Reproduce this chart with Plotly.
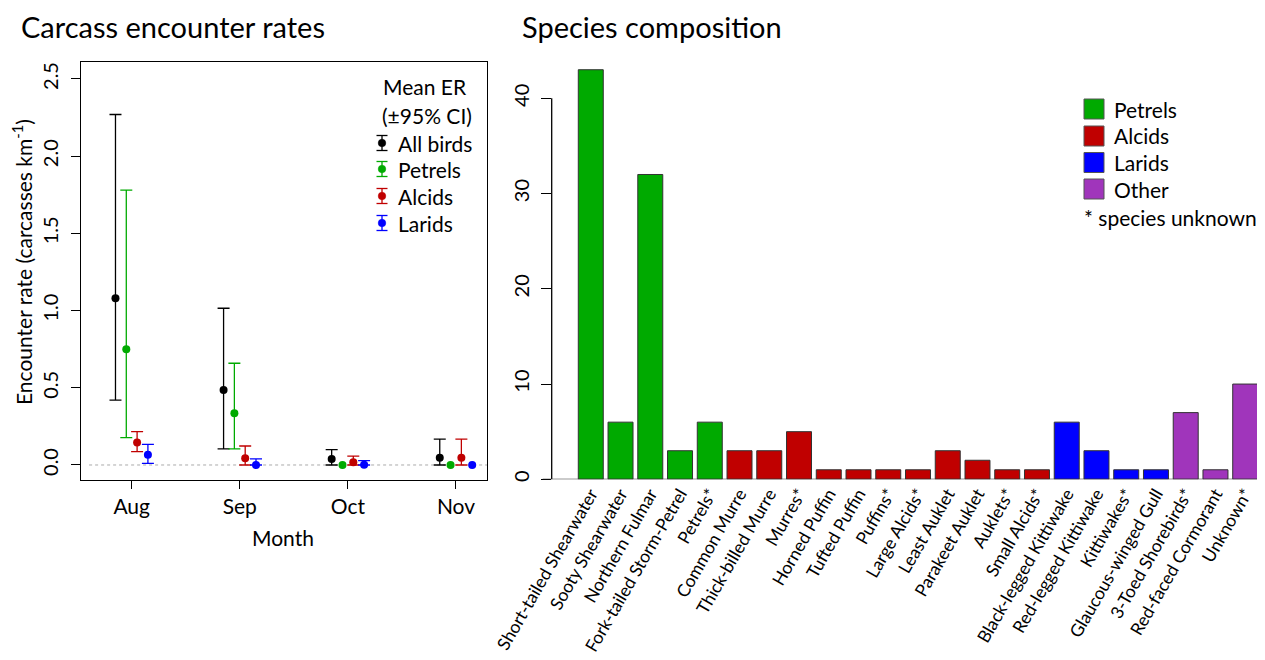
import plotly.graph_objects as go

# page body has an 8px margin: figure is drawn 8px in from the top-left
OFF = 8
W, H = 1265 - OFF, 660 - OFF

# ---------------- data: left panel ----------------
months = ["Aug", "Sep", "Oct", "Nov"]
month_pos = [1, 2, 3, 4]
series_names = ["All birds", "Petrels", "Alcids", "Larids"]

all_mean = [1.08, 0.486, 0.039, 0.047]
all_lo = [0.42, 0.104, 0.0, 0.0]
all_hi = [2.27, 1.015, 0.10, 0.168]

pet_mean = [0.75, 0.335, 0.0, 0.0]
pet_lo = [0.177, 0.104, 0.0, 0.0]
pet_hi = [1.78, 0.659, 0.0, 0.0]

alc_mean = [0.145, 0.043, 0.017, 0.047]
alc_lo = [0.086, 0.0, 0.0, 0.0]
alc_hi = [0.216, 0.123, 0.058, 0.168]

lar_mean = [0.067, 0.0, 0.002, 0.0]
lar_lo = [0.011, 0.0, 0.0, 0.0]
lar_hi = [0.134, 0.039, 0.028, 0.0]

y_ticks_left = [0.0, 0.5, 1.0, 1.5, 2.0, 2.5]
y_ticktext_left = ["0.0", "0.5", "1.0", "1.5", "2.0", "2.5"]

# ---------------- data: right panel ----------------
species = ["Short-tailed Shearwater", "Sooty Shearwater", "Northern Fulmar",
           "Fork-tailed Storm-Petrel", "Petrels*", "Common Murre",
           "Thick-billed Murre", "Murres*", "Horned Puffin", "Tufted Puffin",
           "Puffins*", "Large Alcids*", "Least Auklet", "Parakeet Auklet",
           "Auklets*", "Small Alcids*", "Black-legged Kittiwake",
           "Red-legged Kittiwake", "Kittiwakes*", "Glaucous-winged Gull",
           "3-Toed Shorebirds*", "Red-faced Cormorant", "Unknown*"]
counts = [43, 6, 32, 3, 6, 3, 3, 5, 1, 1, 1, 1, 3, 2, 1, 1, 6, 3, 1, 1, 7, 1, 10]
groups = ["Petrels"] * 5 + ["Alcids"] * 11 + ["Larids"] * 4 + ["Other"] * 3
group_legend = ["Petrels", "Alcids", "Larids", "Other"]
y_ticks_right = [0, 10, 20, 30, 40]

# ---------------- styles ----------------
FONT = "Lato"
colors = {"All birds": "#000000", "Petrels": "#00AA00", "Alcids": "#C00000",
          "Larids": "#0000FF", "Other": "#A035BB"}
offsets = [-0.15, -0.05, 0.05, 0.15]
TXT = 21

def px(x):
    return (x - OFF) / W

def py(y):
    return 1 - (y - OFF) / H

fig = go.Figure()

series = [
    ("All birds", all_mean, all_lo, all_hi),
    ("Petrels", pet_mean, pet_lo, pet_hi),
    ("Alcids", alc_mean, alc_lo, alc_hi),
    ("Larids", lar_mean, lar_lo, lar_hi),
]

for k, (name, mean, lo, hi) in enumerate(series):
    c = colors[name]
    xs = [m + offsets[k] for m in month_pos]
    idx = [i for i in range(len(mean)) if hi[i] > lo[i]]
    # error bars (only where an interval exists)
    fig.add_trace(go.Scatter(
        x=[xs[i] for i in idx], y=[mean[i] for i in idx],
        mode="markers", marker=dict(size=2, opacity=0, color=c),
        error_y=dict(type="data", symmetric=False,
                     array=[hi[i] - mean[i] for i in idx],
                     arrayminus=[mean[i] - lo[i] for i in idx],
                     color=c, thickness=1.3, width=6),
        xaxis="x", yaxis="y", showlegend=False, hoverinfo="skip"))
    fig.add_trace(go.Scatter(
        x=xs, y=mean, mode="markers", name=name,
        marker=dict(size=8, color=c),
        xaxis="x", yaxis="y", showlegend=False))

bar_colors = [colors[g] for g in groups]
fig.add_trace(go.Bar(
    x=species, y=counts, width=0.84,
    marker=dict(color=bar_colors, line=dict(color="#333333", width=1)),
    xaxis="x2", yaxis="y2", showlegend=False))

axis_font = dict(family=FONT, size=20, color="black")

fig.update_layout(
    width=W, height=H,
    margin=dict(l=0, r=0, t=0, b=0, autoexpand=False),
    paper_bgcolor="white", plot_bgcolor="white",
    font=dict(family=FONT, color="black", size=TXT),
    xaxis=dict(domain=[px(81), px(487)], range=[0.531, 4.287],
               tickmode="array", tickvals=month_pos, ticktext=months,
               ticks="outside", ticklen=8, tickwidth=1.3, tickcolor="black",
               showline=True, mirror=True, linecolor="black", linewidth=1.3,
               showgrid=False, zeroline=False,
               tickfont=dict(family=FONT, size=TXT, color="black"),
               ticklabelstandoff=0, anchor="y", automargin=False),
    yaxis=dict(domain=[py(479.5), py(62)], range=[-0.094, 2.61],
               tickmode="array", tickvals=y_ticks_left, ticktext=y_ticktext_left,
               tickangle=-90, ticks="outside", ticklen=9, tickwidth=1.3,
               tickcolor="black",
               showline=True, mirror=True, linecolor="black", linewidth=1.3,
               showgrid=False, zeroline=False, tickfont=axis_font,
               ticklabelstandoff=5, anchor="x", automargin=False),
    xaxis2=dict(domain=[px(551.7), px(1258)], range=[-1.314, 22.43],
                type="category", tickangle=-60, ticks="", showline=False,
                showgrid=False, zeroline=False,
                tickfont=dict(family=FONT, size=17.5, color="black"),
                anchor="y2", automargin=False),
    yaxis2=dict(domain=[py(479.3), py(62)], range=[0, 43.81],
                tickmode="array", tickvals=y_ticks_right,
                tickangle=-90, ticks="outside", ticklen=10, tickwidth=1.3,
                tickcolor="black", showline=False, showgrid=False,
                zeroline=False, tickfont=axis_font, ticklabelstandoff=4,
                anchor="x2", automargin=False),
)

shapes = []
# dotted zero line (left)
shapes.append(dict(type="line", xref="x domain", yref="y", x0=0.02, x1=1,
                   y0=0, y1=0, line=dict(color="#AAAAAA", width=1, dash="dot"),
                   layer="below"))
# right y-axis line (0..40)
shapes.append(dict(type="line", xref="x2 domain", yref="y2", x0=0, x1=0,
                   y0=0, y1=40, line=dict(color="black", width=1.3)))
# right baseline
shapes.append(dict(type="line", xref="paper", yref="y2", x0=px(542.7),
                   x1=px(1258), y0=0, y1=0,
                   line=dict(color="#333333", width=1.3)))

annotations = []
# titles
annotations.append(dict(text="Carcass encounter rates", xref="paper", yref="paper",
                        x=px(20), y=py(8), xanchor="left", yanchor="top",
                        borderpad=0, showarrow=False,
                        font=dict(family=FONT, size=29)))
annotations.append(dict(text="Species composition", xref="paper", yref="paper",
                        x=px(521), y=py(8), xanchor="left", yanchor="top",
                        borderpad=0, showarrow=False,
                        font=dict(family=FONT, size=29)))
# axis titles
annotations.append(dict(text="Encounter rate (carcasses km<sup>-1</sup>)",
                        xref="paper", yref="paper", x=px(22), y=py(262),
                        xanchor="center", yanchor="middle", textangle=-90,
                        showarrow=False, font=dict(family=FONT, size=TXT)))
annotations.append(dict(text="Month", xref="paper", yref="paper",
                        x=px(283), y=py(537), xanchor="center", yanchor="middle",
                        showarrow=False, font=dict(family=FONT, size=TXT)))

# left legend
annotations.append(dict(text="Mean ER", xref="paper", yref="paper",
                        x=px(425), y=py(87), xanchor="center", yanchor="middle",
                        showarrow=False, font=dict(family=FONT, size=TXT)))
annotations.append(dict(text="(±95% CI)", xref="paper", yref="paper",
                        x=px(427), y=py(115), xanchor="center", yanchor="middle",
                        showarrow=False, font=dict(family=FONT, size=TXT)))
leg_y = [143, 169, 196, 223]
gx = 382
for name, yc in zip(series_names, leg_y):
    c = colors[name]
    shapes.append(dict(type="line", xref="paper", yref="paper",
                       x0=px(gx), x1=px(gx), y0=py(yc - 7.5), y1=py(yc + 7.5),
                       line=dict(color=c, width=1.3)))
    for dy in (-7.5, 7.5):
        shapes.append(dict(type="line", xref="paper", yref="paper",
                           x0=px(gx - 5.5), x1=px(gx + 5.5),
                           y0=py(yc + dy), y1=py(yc + dy),
                           line=dict(color=c, width=1.3)))
    shapes.append(dict(type="circle", xref="paper", yref="paper",
                       x0=px(gx - 3.8), x1=px(gx + 3.8),
                       y0=py(yc - 3.8), y1=py(yc + 3.8),
                       fillcolor=c, line=dict(color=c, width=0.5)))
    annotations.append(dict(text=name, xref="paper", yref="paper",
                            x=px(396), y=py(yc), xanchor="left", yanchor="middle",
                            showarrow=False, font=dict(family=FONT, size=TXT)))

# right legend
rleg_y = [109, 136, 162.5, 189]
for g, yc in zip(group_legend, rleg_y):
    shapes.append(dict(type="rect", xref="paper", yref="paper",
                       x0=px(1084), x1=px(1104), y0=py(yc - 10), y1=py(yc + 10),
                       fillcolor=colors[g], line=dict(color="#555555", width=1)))
    annotations.append(dict(text=g, xref="paper", yref="paper",
                            x=px(1112), y=py(yc), xanchor="left", yanchor="middle",
                            showarrow=False, font=dict(family=FONT, size=TXT)))
annotations.append(dict(text="* species unknown", xref="paper", yref="paper",
                        x=px(1082), y=py(217), xanchor="left", yanchor="middle",
                        showarrow=False, font=dict(family=FONT, size=TXT)))

fig.update_layout(shapes=shapes, annotations=annotations)

fig.write_html("out.html")
